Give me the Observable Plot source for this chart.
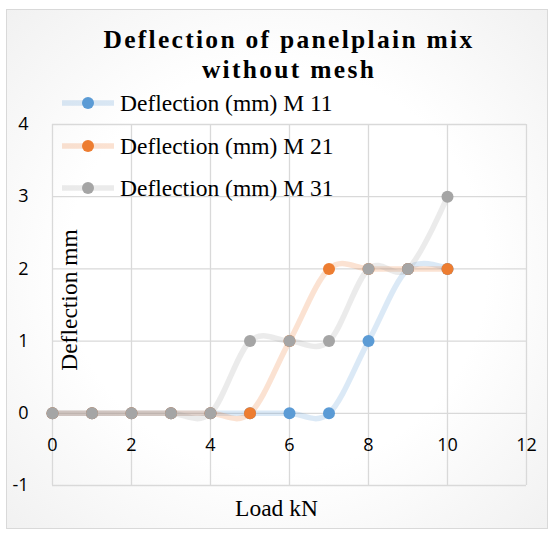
<!DOCTYPE html>
<html>
<head>
<meta charset="utf-8">
<script src="https://cdn.jsdelivr.net/npm/d3@7"></script>
<script src="https://cdn.jsdelivr.net/npm/@observablehq/plot@0.6"></script>
<style>
  html, body { margin: 0; padding: 0; background: #fff; }
  #wrap { position: relative; width: 550px; height: 534px; overflow: hidden; }
  #bg { position: absolute; left: 6px; top: 9px; width: 542px; height: 520px; border: 1px solid #d9d9d9;
        background: radial-gradient(ellipse at 50% 50%, #ffffff 55%, #f1f1f1 100%); box-sizing: border-box; }
  #chart { position: absolute; left: 0; top: 0; }
  #title { position: absolute; left: 0px; width: 578px; top: 25px; text-align: center;
           font-family: "Liberation Serif", "DejaVu Serif", serif; font-weight: bold; font-size: 25.5px;
           letter-spacing: 2.3px; line-height: 30px; color: #000; white-space: nowrap; }
  .leg { position: absolute; left: 62px; height: 28px; display: flex; align-items: center;
         font-family: "Liberation Serif", serif; font-size: 23.5px; color: #000; white-space: nowrap; }
  .leg svg { margin-right: 6px; }
</style>
</head>
<body>
<div id="wrap">
  <div id="bg"></div>
  <div id="chart"></div>
  <div id="title">Deflection of panelplain mix<br>without mesh</div>
  <div id="legend"></div>
</div>
<script>
const loads = [0, 1, 2, 3, 4, 5, 6, 7, 8, 9, 10];
const m11 = [0, 0, 0, 0, 0, 0, 0, 0, 1, 2, 2];
const m21 = [0, 0, 0, 0, 0, 0, 1, 2, 2, 2, 2];
const m31 = [0, 0, 0, 0, 0, 1, 1, 1, 2, 2, 3];
const seriesNames = ["Deflection (mm) M 11", "Deflection (mm) M 21", "Deflection (mm) M 31"];
const seriesColors = ["#5B9BD5", "#ED7D31", "#A5A5A5"];
const xTicks = [0, 2, 4, 6, 8, 10, 12];
const yTicks = [-1, 0, 1, 2, 3, 4];
const xTitle = "Load kN";
const yTitle = "Deflection mm";

const allSeries = [m11, m21, m31];
const rows = allSeries.map((vals, i) => loads.map((x, j) => ({x, y: vals[j], s: seriesNames[i]})));
const tickFont = "Open Sans, Liberation Sans, sans-serif";

const marks = [
  Plot.gridX(xTicks, {stroke: "#d9d9d9", strokeOpacity: 1, strokeWidth: 1.3}),
  Plot.gridY(yTicks, {stroke: "#d9d9d9", strokeOpacity: 1, strokeWidth: 1.3}),
  Plot.axisY(yTicks, {tickSize: 0, tickPadding: 24, tickFormat: d => String(d), fontSize: 18, fontFamily: tickFont, fill: "#000", label: null}),
  Plot.text(xTicks.map(t => ({x: t, y: 0})), {x: "x", y: "y", text: d => String(d.x), dy: 32, fontSize: 18, fontFamily: tickFont, fill: "#000"}),
  Plot.text([yTitle], {frameAnchor: "left", textAnchor: "middle", rotate: -90, text: d => d, dx: 17, dy: -5, fontSize: 23.5, fontFamily: "Liberation Serif, serif", fill: "#000"}),
  Plot.text([xTitle], {frameAnchor: "bottom", text: d => d, dx: -13, dy: 30, fontSize: 23.5, fontFamily: "Liberation Serif, serif", fill: "#000"})
];
rows.forEach((r, i) => {
  marks.push(Plot.line(r, {x: "x", y: "y", curve: "cardinal", tension: 0, stroke: seriesColors[i], strokeOpacity: 0.22, strokeWidth: 5.5}));
  marks.push(Plot.dot(r, {x: "x", y: "y", r: 6, fill: seriesColors[i], stroke: "none"}));
});

const chart = Plot.plot({
  width: 550,
  height: 534,
  marginLeft: 52,
  marginRight: 24,
  marginTop: 124,
  marginBottom: 49,
  style: {background: "transparent", overflow: "visible"},
  x: {domain: [0, 12], axis: null},
  y: {domain: [-1, 4], axis: null},
  marks
});
document.getElementById("chart").appendChild(chart);

const legend = document.getElementById("legend");
const legTops = [89, 132, 174];
seriesNames.forEach((name, i) => {
  const div = document.createElement("div");
  div.className = "leg";
  div.style.top = legTops[i] + "px";
  div.innerHTML = `<svg width="52" height="14"><line x1="0" x2="52" y1="7" y2="7" stroke="${seriesColors[i]}" stroke-opacity="0.22" stroke-width="5.5"/><circle cx="26" cy="7" r="6" fill="${seriesColors[i]}"/></svg><span>${name}</span>`;
  legend.appendChild(div);
});
</script>
</body>
</html>
